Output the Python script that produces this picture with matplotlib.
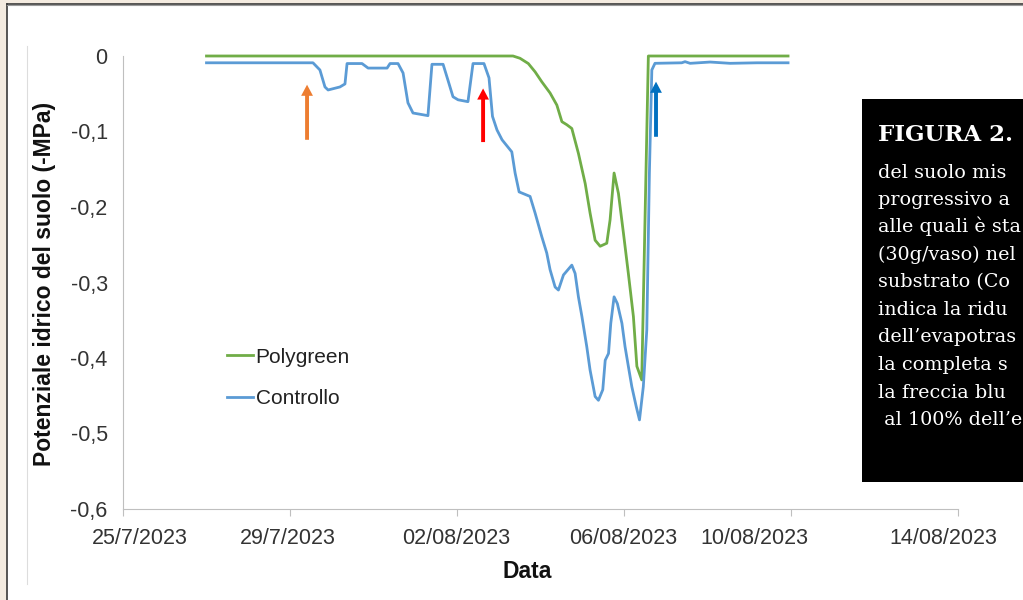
import matplotlib
matplotlib.use("Agg")
import matplotlib.pyplot as plt
import matplotlib.transforms as mtransforms
from matplotlib.patches import Rectangle
from matplotlib.lines import Line2D
import pandas as pd

# hours after 27/07/2023 00:00, values in MPa
ctrl_hours = [0, 61.2, 65.2, 68.1, 69.9, 76.7, 79.6, 80.8, 89.4, 92.9, 103.8, 105.5,
              110.1, 113.0, 115.8, 118.7, 127.3, 129.6, 136.0, 138.8, 141.7, 144.6,
              150.3, 153.2, 159.5, 162.4, 164.4, 167.0, 169.9, 175.5, 177.4, 179.7,
              186.0, 188.9, 192.7, 195.6, 197.5, 200.4, 202.3, 205.2, 210.0, 211.9,
              213.8, 215.8, 218.6, 220.5, 223.4, 225.3, 227.8, 229.2, 231.1, 232.4,
              234.3, 236.2, 238.8, 240.6, 242.5, 244.5, 247.0, 248.9, 251.1, 253.1,
              254.6, 256.0, 257.8, 273.2, 275.1, 278.0, 289.5, 301.0, 316.5, 334.3]
ctrl_vals = [-0.009, -0.009, -0.0185, -0.041, -0.045, -0.041, -0.037, -0.010, -0.010,
             -0.016, -0.016, -0.010, -0.010, -0.0225, -0.062, -0.0755, -0.079, -0.011,
             -0.011, -0.032, -0.054, -0.058, -0.0605, -0.010, -0.010, -0.029, -0.080,
             -0.098, -0.111, -0.127, -0.155, -0.180, -0.186, -0.208, -0.239, -0.261,
             -0.283, -0.306, -0.310, -0.290, -0.277, -0.288, -0.319, -0.345, -0.385,
             -0.416, -0.451, -0.456, -0.442, -0.403, -0.394, -0.354, -0.319, -0.328,
             -0.354, -0.385, -0.411, -0.438, -0.464, -0.482, -0.438, -0.363, -0.155,
             -0.0185, -0.0097, -0.009, -0.0075, -0.0097, -0.008, -0.0097, -0.009, -0.009]

poly_hours = [0, 176.2, 180.2, 185.0, 188.9, 192.7, 197.5, 201.4, 204.3, 207.1, 210.0,
              213.8, 217.7, 220.5, 223.4, 226.3, 230.1, 232.0, 234.3, 236.8, 239.7,
              242.5, 245.4, 247.4, 250.2, 254.0, 334.3]
poly_vals = [0, 0, -0.003, -0.010, -0.021, -0.034, -0.049, -0.065, -0.087, -0.091,
             -0.096, -0.129, -0.169, -0.208, -0.244, -0.252, -0.248, -0.217, -0.155,
             -0.182, -0.235, -0.288, -0.345, -0.411, -0.429, 0, 0]

series_names = ["Polygreen", "Controllo"]

# arrows: hour, tip value, tail value, colour
arrow_hours = [57.8, 159.0, 258.4]
arrow_tips = [-0.038, -0.043, -0.034]
arrow_tails = [-0.111, -0.114, -0.107]
arrow_colors = ["#ED7D31", "#FF0000", "#0070C0"]

tick_dates = ["2023-07-25", "2023-07-29", "2023-08-02", "2023-08-06", "2023-08-10", "2023-08-14"]
tick_labels = ["25/7/2023", "29/7/2023", "02/08/2023", "06/08/2023", "10/08/2023", "14/08/2023"]
tick_shift_px = [17, -2, -1, -1, -37, -15]

# only the part of the caption that is visible in the page crop
caption_title = "FIGURA 2."
caption = ["del suolo mis", "progressivo a", "alle quali è sta", "(30g/vaso) nel",
           "substrato (Co", "indica la ridu", "dell’evapotras", "la completa s",
           "la freccia blu", " al 100% dell’e"]

start = pd.Timestamp("2023-07-27")
ctrl_x = start + pd.to_timedelta(ctrl_hours, unit="h")
poly_x = start + pd.to_timedelta(poly_hours, unit="h")
arrow_x = start + pd.to_timedelta(arrow_hours, unit="h")

W, H = 1023, 600
fig = plt.figure(figsize=(W / 100, H / 100), dpi=100, facecolor="#F4EBE0")

# page background and frame
fig.add_artist(Rectangle((7 / W, 0), 1, 1 - 4 / H, transform=fig.transFigure,
                         facecolor="white", edgecolor="none", zorder=-10))
fig.add_artist(Line2D([7 / W, 7 / W], [0, 1 - 3.5 / H], transform=fig.transFigure,
                      color="#3a3a3a", lw=1.2, zorder=-5))
fig.add_artist(Line2D([7 / W, 1], [1 - 3.5 / H, 1 - 3.5 / H], transform=fig.transFigure,
                      color="#3a3a3a", lw=1.2, zorder=-5))
fig.add_artist(Line2D([7 / W, 1], [1 - 5 / H, 1 - 5 / H], transform=fig.transFigure,
                      color="#9a9a9a", lw=0.8, zorder=-5))
fig.add_artist(Line2D([27 / W, 27 / W], [1 - 584 / H, 1 - 46 / H], transform=fig.transFigure,
                      color="#DDDDDD", lw=0.8, zorder=-5))

ax = fig.add_axes([123 / W, 1 - 509 / H, (958 - 123) / W, (509 - 56) / H])
ax.set_facecolor("none")

ax.plot(poly_x, poly_vals, color="#70AD47", lw=2.0, clip_on=False, label=series_names[0])
ax.plot(ctrl_x, ctrl_vals, color="#5B9BD5", lw=2.0, clip_on=False, label=series_names[1])

for xa, tip, tail, c in zip(arrow_x, arrow_tips, arrow_tails, arrow_colors):
    ax.annotate("", xy=(xa, tip), xytext=(xa, tail),
                arrowprops=dict(width=2.8, headwidth=8.5, headlength=8, shrink=0,
                                facecolor=c, edgecolor="none"))

ax.set_ylim(-0.6, 0)
ax.set_yticks([0, -0.1, -0.2, -0.3, -0.4, -0.5, -0.6])
ax.set_yticklabels(["0", "-0,1", "-0,2", "-0,3", "-0,4", "-0,5", "-0,6"])
ax.set_xlim(pd.Timestamp("2023-07-25"), pd.Timestamp("2023-08-14"))
ax.set_xticks(pd.to_datetime(tick_dates))
ax.set_xticklabels(tick_labels)

for s in ["top", "right"]:
    ax.spines[s].set_visible(False)
for s in ["left", "bottom"]:
    ax.spines[s].set_color("#BFBFBF")
    ax.spines[s].set_linewidth(0.8)

ax.tick_params(axis="y", length=0, pad=11, labelsize=15.5, labelcolor="#333333")
ax.tick_params(axis="x", length=5, width=0.8, color="#BFBFBF", pad=9,
               labelsize=15.5, labelcolor="#333333")
for lab in ax.get_yticklabels() + ax.get_xticklabels():
    lab.set_fontfamily("Liberation Sans")
for lab, dx in zip(ax.get_xticklabels(), tick_shift_px):
    lab.set_transform(lab.get_transform() + mtransforms.ScaledTranslation(dx / 100, 0, fig.dpi_scale_trans))

fig.text(45 / W, 1 - 284 / H, "Potenziale idrico del suolo (-MPa)", rotation=90,
         ha="center", va="center", fontsize=16.5, fontweight="bold",
         family="Liberation Sans", color="#111111")
fig.text(527 / W, 1 - 572 / H, "Data", ha="center", va="center", fontsize=16.5,
         fontweight="bold", family="Liberation Sans", color="#111111")

leg = ax.legend(loc="center left", bbox_to_anchor=(217 / W, 1 - 378 / H),
                bbox_transform=fig.transFigure, frameon=False, borderpad=0,
                handlelength=1.25, handletextpad=0.1, labelspacing=1.1,
                prop={"family": "Liberation Sans", "size": 15})
for t in leg.get_texts():
    t.set_color("#222222")

# black caption box on the right
box = fig.add_axes([862 / W, 1 - 482 / H, 1 - 862 / W, (482 - 99) / H])
box.set_facecolor("black")
box.set_xticks([])
box.set_yticks([])
for s in box.spines.values():
    s.set_visible(False)

fig.text(878 / W, 1 - 141 / H, caption_title, color="white", family="DejaVu Serif",
         fontweight="bold", fontsize=16.5, va="baseline", ha="left")
for i, line in enumerate(caption):
    fig.text(878 / W, 1 - (177.5 + 27.5 * i) / H, line, color="white",
             family="DejaVu Serif", fontsize=13.8, va="baseline", ha="left")

fig.savefig("out.png", dpi=100)
